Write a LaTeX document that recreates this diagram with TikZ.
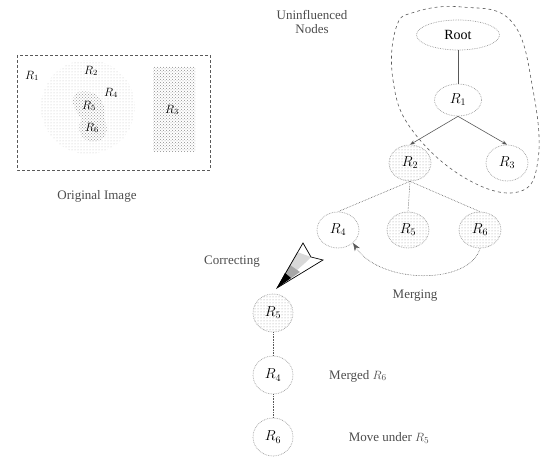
\documentclass[tikz,border=0pt]{standalone}
\usepackage{fontspec}
\setmainfont{Liberation Serif}
\usetikzlibrary{patterns,arrows.meta,shapes.geometric}
\tikzset{
  rn/.style={ellipse, draw=gray!80, densely dotted, line width=0.7pt, minimum width=42pt, minimum height=36pt, inner sep=0pt, font=\fontsize{14}{14}\selectfont},
  tex/.style={pattern=dots, pattern color=gray!80},
  edge/.style={draw=gray!70!black, line width=0.6pt},
  lbl/.style={font=\fontsize{13}{14}\selectfont, text=gray!60!black},
  imgl/.style={font=\fontsize{12}{12}\selectfont\itshape}
}
\begin{document}
\begin{tikzpicture}[x=1pt,y=-1pt]
\useasboundingbox (0,0) rectangle (541,462);
% original image
\draw[draw=gray!70!black, densely dashed, line width=0.6pt] (17,55) rectangle (210,170);
\fill[pattern=dots, pattern color=gray!50] (88,107) circle (47);
\fill[pattern=crosshatch dots, pattern color=gray!80] (78,92) .. controls (95,88) and (108,100) .. (104,118) .. controls (110,130) and (106,142) .. (92,142) .. controls (80,140) and (76,128) .. (82,118) .. controls (72,110) and (70,96) .. (78,92) -- cycle;
\fill[pattern=crosshatch dots, pattern color=gray!90] (153,67) rectangle (195,152);
\node[imgl] (i1) at (32,76) {$R_1$};
\node[imgl] (i2) at (91,71) {$R_2$};
\node[imgl] (i4) at (111,93) {$R_4$};
\node[imgl] (i5) at (89,106) {$R_5$};
\node[imgl] (i6) at (92,128) {$R_6$};
\node[imgl] (i3) at (172,110) {$R_3$};
\node[lbl] (oi) at (97,196) {Original Image};
% tree
\node[rn, minimum width=83pt, minimum height=30pt] (root) at (458,35) {Root};
\node[rn, minimum width=47pt, minimum height=32pt] (r1) at (458,100) {$R_1$};
\node[rn, tex] (r2) at (410,163) {$R_2$};
\node[rn] (r3) at (507,163) {$R_3$};
\node[rn] (r4) at (338,230) {$R_4$};
\node[rn, tex] (r5) at (408,230) {$R_5$};
\node[rn, tex] (r6) at (480,230) {$R_6$};
\draw[edge] (root) -- (r1);
\draw[edge, -{Stealth[length=5pt]}] (r1.south) -- (r2.north);
\draw[edge, -{Stealth[length=5pt]}] (r1.south) -- (r3.north);
\draw[edge, densely dotted] (r2.south) -- (r4.north);
\draw[edge, densely dotted] (r2.south) -- (r5.north);
\draw[edge, densely dotted] (r2.south) -- (r6.north);
% uninfluenced loop
\draw[gray!70!black, dashed, line width=0.6pt] plot[smooth cycle, tension=0.7] coordinates {(396,28) (393,80) (412,130) (465,178) (518,192) (538,160) (533,90) (512,22) (462,7) (415,12)};
\node[lbl, align=center] (un) at (312,22) {Uninfluenced\\Nodes};
% merging
\draw[edge, densely dotted, -{Stealth[length=8pt, width=6pt]}] (r6.south) .. controls (470,285) and (380,285) .. (r4.south east);
\node[lbl] (mg) at (415,296) {Merging};
% correcting arrow
\coordinate (ctip) at (277,288);
\fill[white] (ctip) -- (303,243) -- (311,257) -- (323,260) -- cycle;
\fill[gray!30] (ctip) -- (297,252) -- (311,257) -- (305,263) -- cycle;
\fill[gray!70] (ctip) -- (290,265) -- (300,272) -- cycle;
\fill[black] (ctip) -- (285,273) -- (291,278) -- cycle;
\draw[black, line width=0.7pt] (ctip) -- (303,243) -- (311,257) -- (323,260) -- cycle;
\node[lbl] (cr) at (232,262) {Correcting};
% corrected chain
\node[rn, tex, minimum width=40pt, minimum height=38pt] (c5) at (273,313) {$R_5$};
\node[rn, minimum width=40pt, minimum height=38pt] (c4) at (273,375) {$R_4$};
\node[rn, minimum width=40pt, minimum height=38pt] (c6) at (273,437) {$R_6$};
\draw[edge, densely dotted] (c5) -- (c4);
\draw[edge, densely dotted] (c4) -- (c6);
\node[lbl] (m6) at (358,376) {Merged $R_6$};
\node[lbl] (mv) at (389,438) {Move under $R_5$};
\end{tikzpicture}
\end{document}
